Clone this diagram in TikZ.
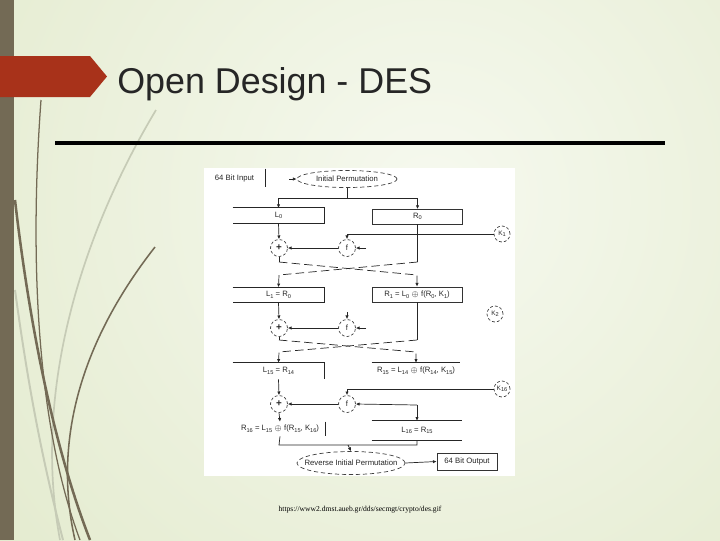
\documentclass[tikz,border=0pt]{standalone}
\usepackage{fontspec}
\setmainfont{Liberation Sans}
\newfontfamily\srcfont{Liberation Serif}
\usetikzlibrary{arrows.meta,shapes.geometric}

\definecolor{slidebg}{HTML}{DCE5C1}
\definecolor{slidehi}{HTML}{F6F9EF}
\definecolor{barbrown}{HTML}{736A55}
\definecolor{tabred}{HTML}{A8321A}
\definecolor{stemgray}{HTML}{C6CBB6}
\definecolor{titlegray}{HTML}{262626}
\newcommand\ix[1]{\raisebox{-0.4ex}{\fontsize{4}{4}\selectfont#1}}

\begin{document}
\begin{tikzpicture}[x=0.025cm,y=-0.025cm,>={Latex[length=2.6pt,width=2.4pt]},
  txt/.style={font=\fontsize{5.5}{6}\selectfont,text=black!85,inner sep=0pt},
  lbox/.style={txt,minimum width=2.275cm,minimum height=0.375cm},
  rbox/.style={lbox,draw=black!80,line width=0.5pt,minimum width=2.25cm},
  perm/.style={ellipse,draw=black!75,line width=0.5pt,dash pattern=on 3pt off 2pt,inner sep=0pt},
  op/.style={txt,circle,draw=black!75,line width=0.5pt,dash pattern=on 2pt off 1.5pt,minimum size=0.425cm},
  key/.style={op,font=\fontsize{4.6}{5}\selectfont,minimum size=0.4cm},
  wire/.style={draw=black!85,line width=0.5pt},
  cross/.style={wire,dash pattern=on 6pt off 3pt}]
\useasboundingbox (0,0) rectangle (720,540);
% slide background
\begin{scope}
\clip (0,0) rectangle (720,540);
\shade[inner color=slidehi,outer color=slidebg] (-370,-600) rectangle (1230,1000);
\end{scope}
\fill[barbrown] (0,0) rectangle (14,540);
\draw[stemgray,line width=1.2pt] (156,110) .. controls (90,220) and (30,380) .. (60,540);
\draw[stemgray,line width=1.4pt] (15,290) .. controls (30,400) and (45,470) .. (63,540);
\draw[barbrown,line width=0.9pt] (41,100) .. controls (30,250) and (35,420) .. (80,540);
\draw[barbrown,line width=1.8pt] (15,200) .. controls (30,330) and (55,450) .. (90,540);
\draw[barbrown,line width=1.1pt] (155,247) .. controls (90,330) and (50,430) .. (75,540);
\fill[tabred] (0,56) -- (90,56) -- (107,76.5) -- (90,97) -- (0,97) -- cycle;
\node[anchor=base west,font=\fontsize{25.5}{28}\selectfont,text=titlegray,inner sep=0pt] (title) at (117,93) {Open Design - DES};
\draw[line width=2.8pt] (55,143) -- (665,143);
\fill[white] (204,168) rectangle (515,476);

% input and initial permutation
\node[txt,minimum width=1.525cm,minimum height=0.45cm] (inbox) at (234.5,178) {64 Bit Input};
\draw[wire] (inbox.north east) -- (inbox.south east);
\node[perm,minimum width=2.5cm,minimum height=0.425cm,label={[txt]center:Initial Permutation}] (ip) at (347,179) {};
\coordinate (ipin) at (289,179);
\draw[wire,->] (ipin) -- (ip.west);
\coordinate (ipj) at (347,198);
\draw[wire] (ip.south) -- (ipj);
\draw[wire,->] (ipj) -| (278.5,208);
\draw[wire,->] (ipj) -| (417.5,209);

% round 1
\node[lbox] (lz) at (278.5,215.5) {L\ix{0}};
\draw[wire] (lz.north west) -- (lz.north east) -- (lz.south east) -- (lz.south west);
\node[rbox] (rz) at (417.5,216.5) {R\ix{0}};
\node[key] (k1) at (502,234) {K\ix{1}};
\node[op] (f1) at (347,248) {f};
\node[op,font=\fontsize{7}{7}\selectfont\bfseries] (a1) at (279,248) {+};
\draw[wire,->] (k1.west) -| (f1.north);
\draw[wire,->] (lz.south) -- (a1.north);
\draw[wire,->] (f1.west) -- (a1.east);
\coordinate (f1in) at (366,248);
\draw[wire,->] (f1in) -- (f1.east);
\coordinate (c1r) at (417.5,262);
\coordinate (c1l) at (279,262);
\draw[wire] (rz.south) -- (c1r);
\draw[wire] (a1.south) -- (c1l);

% round 2
\node[lbox] (l1) at (278.5,295) {L\ix{1} = R\ix{0}};
\draw[wire] (l1.north west) -- (l1.north east) -- (l1.south east) -- (l1.south west);
\node[rbox] (r1) at (417,294.5) {R\ix{1} = L\ix{0} $\oplus$ f(R\ix{0}, K\ix{1})};
\draw[cross,->] (c1r) -- (279,275) -- (l1.north);
\draw[cross,->] (c1l) -- (417,275) -- (r1.north);
\node[key] (k2) at (495,314) {K\ix{2}};
\node[op] (f2) at (347,328) {f};
\node[op,font=\fontsize{7}{7}\selectfont\bfseries] (a2) at (279,328) {+};
\coordinate (f2top) at (347,312);
\coordinate (f2in) at (366,328);
\draw[wire,->] (f2top) -- (f2.north);
\draw[wire,->] (f2in) -- (f2.east);
\draw[wire,->] (l1.south) -- (a2.north);
\draw[wire,->] (f2.west) -- (a2.east);
\coordinate (c2r) at (417,340);
\coordinate (c2l) at (279,340);
\draw[wire] (r1.south) -- (c2r);
\draw[wire] (a2.south) -- (c2l);

% round 16
\node[lbox,minimum height=0.4cm] (l15) at (278.5,371) {L\ix{15} = R\ix{14}};
\draw[wire] (l15.north west) -- (l15.north east) -- (l15.south east);
\node[lbox,minimum width=2.2cm,minimum height=0.4cm] (r15) at (416,371) {R\ix{15} = L\ix{14} $\oplus$ f(R\ix{14}, K\ix{15})};
\draw[wire] (r15.north west) -- (r15.north east);
\draw[cross,->] (c2r) -- (279,352) -- (l15.north);
\draw[cross,->] (c2l) -- (416,352) -- (r15.north);
\node[key] (k16) at (502,389) {K\ix{16}};
\node[op] (f16) at (347,404) {f};
\node[op,font=\fontsize{7}{7}\selectfont\bfseries] (a16) at (279,404) {+};
\draw[wire,->] (k16.west) -| (f16.north);
\draw[wire,->] (l15.south) -- (a16.north);
\draw[wire,->] (f16.west) -- (a16.east);
\node[lbox,minimum height=0.35cm] (r16) at (280,429) {R\ix{16} = L\ix{15} $\oplus$ f(R\ix{15}, K\ix{16})};
\draw[wire] (r16.north east) -- (r16.south east);
\node[lbox,minimum width=2.25cm,minimum height=0.475cm] (l16) at (417,430.5) {L\ix{16} = R\ix{15}};
\draw[wire] (l16.north west) -- (l16.north east);
\draw[wire] (l16.south west) -- (l16.south east);
\draw[wire,->] (a16.south) -- (r16.north);
\coordinate (rj) at (417,405);
\draw[wire,->] (rj) -- (f16.east);
\draw[wire,->] (rj) -- (l16.north);

% output
\node[perm,minimum width=2.7cm,minimum height=0.575cm,label={[txt]center:Reverse Initial Permutation}] (rip) at (351,463) {};
\node[txt,draw=black!80,line width=0.5pt,minimum width=1.5cm,minimum height=0.425cm] (out) at (467,461.5) {64 Bit Output};
\coordinate (mj) at (348,445);
\draw[wire] (r16.south) -- (279,445) -- (417,445) -- (l16.south);
\draw[wire,->] (mj) -- (rip.north);
\draw[wire,->] (rip.east) -- (out.west);

\node[font=\srcfont\fontsize{5.4}{6}\selectfont,inner sep=0pt] (src) at (360,510) {https://www2.dmst.aueb.gr/dds/secmgt/crypto/des.gif};
\end{tikzpicture}
\end{document}
